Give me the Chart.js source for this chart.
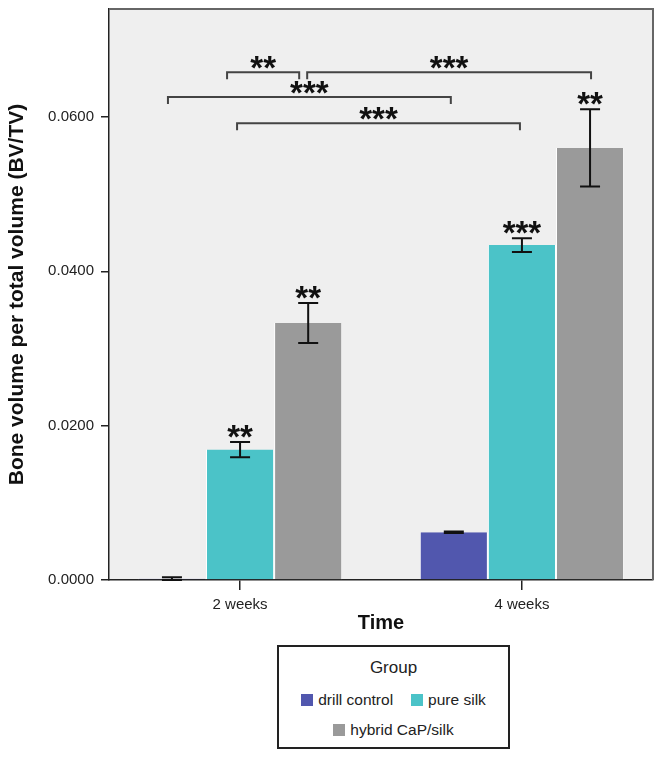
<!DOCTYPE html>
<html lang="en">
<head>
<meta charset="UTF-8">
<title>Bone volume per total volume</title>
<script src="https://cdn.jsdelivr.net/npm/chart.js"></script>
<style>
    body { margin: 0; background: #fff; font-family: 'Liberation Sans', Arial, sans-serif; }
    .wrap { position: relative; width: 663px; height: 762px; }
    .chart-box { position: absolute; left: 0; top: 0; width: 663px; height: 640px; }
    .legend {
        position: absolute; left: 277px; top: 645px; width: 233px; height: 104px; box-sizing: border-box;
        border: 2px solid #222; background: #fff; text-align: center; color: #222;
    }
    .legend h4 { margin: 11px 0 13px; font-size: 17px; line-height: 20px; font-weight: normal; }
    .legend .items { display: flex; flex-wrap: wrap; justify-content: center; column-gap: 18px; row-gap: 12px; padding: 0 4px; }
    .legend .item { display: flex; align-items: center; font-size: 15.5px; line-height: 18px; }
    .legend .sw { width: 12px; height: 12px; margin-right: 5px; }
</style>
</head>
<body>
<div class="wrap">
    <div class="chart-box"><canvas id="boneChart"></canvas></div>
    <div class="legend" id="legend"><h4>Group</h4><div class="items" id="legendItems"></div></div>
</div>
<script>
    // data
    const timeLabels = ['2 weeks', '4 weeks'];
    const groupNames = ['drill control', 'pure silk', 'hybrid CaP/silk'];
    const drillControl = [0.00015, 0.0062];
    const pureSilk = [0.0169, 0.0434];
    const hybridCaP = [0.0333, 0.0560];
    const drillErr = [0.0002, 0.0001];
    const silkErr = [0.0010, 0.0009];
    const hybridErr = [0.0026, 0.0050];
    const drillStars = ['', ''];
    const silkStars = ['**', '***'];
    const hybridStars = ['**', '**'];
    const yTicks = [0, 0.02, 0.04, 0.06];
    const groupColors = ['#5157ae', '#4bc3c8', '#9a9a9a'];

    // significance brackets: [group, time] -> [group, time], bracket level, label
    const brackets = [
        { from: [1, 0], to: [2, 0], y: 0.0658, stars: '**' },
        { from: [2, 0], to: [2, 1], y: 0.0658, stars: '***' },
        { from: [0, 0], to: [0, 1], y: 0.0626, stars: '***' },
        { from: [1, 0], to: [1, 1], y: 0.0592, stars: '***' }
    ];

    const values = [drillControl, pureSilk, hybridCaP];
    const errors = [drillErr, silkErr, hybridErr];
    const stars = [drillStars, silkStars, hybridStars];

    // legend
    const legendItems = document.getElementById('legendItems');
    groupNames.forEach((name, i) => {
        const el = document.createElement('div');
        el.className = 'item';
        el.innerHTML = '<span class="sw" style="background:' + groupColors[i] + '"></span>' + name;
        legendItems.appendChild(el);
    });

    const FONT = "'Liberation Sans', Arial, sans-serif";

    function drawStars(ctx, text, x, yCenter) {
        ctx.font = 'bold 33px ' + FONT;
        ctx.textAlign = 'center';
        ctx.textBaseline = 'alphabetic';
        ctx.fillStyle = '#111';
        ctx.fillText(text, x, yCenter + 16);
    }

    const decorations = {
        id: 'decorations',
        beforeDraw(chart) {
            const { ctx, chartArea: a } = chart;
            ctx.save();
            ctx.fillStyle = '#efefef';
            ctx.fillRect(a.left, a.top, a.right - a.left, a.bottom - a.top);
            ctx.restore();
        },
        afterDatasetsDraw(chart) {
            const { ctx, chartArea: a } = chart;
            const y = chart.scales.y;
            ctx.save();
            // error bars, stars sit on the cap
            ctx.strokeStyle = '#111';
            ctx.lineWidth = 2;
            values.forEach((series, d) => {
                const meta = chart.getDatasetMeta(d);
                series.forEach((v, i) => {
                    const x = meta.data[i].x;
                    const yTop = y.getPixelForValue(v + errors[d][i]);
                    const yBot = y.getPixelForValue(Math.max(0, v - errors[d][i]));
                    ctx.beginPath();
                    ctx.moveTo(x, yTop); ctx.lineTo(x, yBot);
                    ctx.moveTo(x - 10, yTop); ctx.lineTo(x + 10, yTop);
                    ctx.moveTo(x - 10, yBot); ctx.lineTo(x + 10, yBot);
                    ctx.stroke();
                    if (stars[d][i]) drawStars(ctx, stars[d][i], x, yTop - 10);
                });
            });
            // brackets
            const inset = [[-13, -9], [-1, 1], [-4, -3], [-3, -2]];
            ctx.strokeStyle = '#444';
            ctx.lineWidth = 2;
            brackets.forEach((b, k) => {
                const x1 = chart.getDatasetMeta(b.from[0]).data[b.from[1]].x + inset[k][0];
                const x2 = chart.getDatasetMeta(b.to[0]).data[b.to[1]].x + inset[k][1];
                const yb = y.getPixelForValue(b.y);
                ctx.beginPath();
                ctx.moveTo(x1, yb + 7); ctx.lineTo(x1, yb); ctx.lineTo(x2, yb); ctx.lineTo(x2, yb + 7);
                ctx.stroke();
                drawStars(ctx, b.stars, (x1 + x2) / 2, yb - 9);
            });
            // frame top / right
            ctx.strokeStyle = '#666';
            ctx.lineWidth = 2;
            ctx.beginPath();
            ctx.moveTo(a.left, a.top); ctx.lineTo(a.right, a.top); ctx.lineTo(a.right, a.bottom);
            ctx.stroke();
            ctx.restore();
        }
    };

    new Chart(document.getElementById('boneChart'), {
        type: 'bar',
        data: {
            datasets: groupNames.map((name, i) => ({
                label: name,
                data: values[i].map((v, t) => ({ x: t, y: v })),
                backgroundColor: groupColors[i],
                borderColor: '#ffffff',
                borderWidth: { left: 1, right: 1, top: 0, bottom: 0 },
                barPercentage: 1,
                categoryPercentage: 0.725
            }))
        },
        options: {
            responsive: true,
            maintainAspectRatio: false,
            animation: false,
            layout: { padding: { left: 4, right: 10, top: 9, bottom: 0 } },
            plugins: {
                legend: { display: false },
                tooltip: { enabled: false }
            },
            scales: {
                x: {
                    type: 'linear',
                    offset: false,
                    min: -0.465,
                    max: 1.465,
                    afterBuildTicks(s) { s.ticks = timeLabels.map((l, i) => ({ value: i })); },
                    afterFit(s) { s.height = 60; s.paddingLeft = 0; s.paddingRight = 0; },
                    grid: { display: true, offset: false, drawOnChartArea: false, tickLength: 10, color: '#222', lineWidth: 1.5 },
                    border: { color: '#222', width: 1.5 },
                    ticks: {
                        color: '#222', padding: 6, font: { size: 15, family: FONT },
                        callback: v => timeLabels[v]
                    },
                    title: {
                        display: true, text: 'Time', color: '#111', padding: { top: 0, bottom: 5 },
                        font: { size: 20, weight: 'bold', family: FONT }
                    }
                },
                y: {
                    min: 0,
                    max: 0.0740,
                    afterBuildTicks(s) { s.ticks = yTicks.map(v => ({ value: v })); },
                    afterFit(s) { s.width = 105; s.paddingTop = 0; s.paddingBottom = 0; },
                    grid: { display: true, drawOnChartArea: false, tickLength: 8, color: '#222', lineWidth: 1.5 },
                    border: { color: '#222', width: 1.5 },
                    ticks: {
                        color: '#222', padding: 7,
                        font: { size: 15, family: FONT },
                        callback: v => v.toFixed(4)
                    },
                    title: {
                        display: true, text: 'Bone volume per total volume (BV/TV)', color: '#111',
                        padding: { top: 1, bottom: 0 },
                        font: { size: 21, weight: 'bold', family: FONT }
                    }
                }
            }
        },
        plugins: [decorations]
    });
</script>
</body>
</html>
